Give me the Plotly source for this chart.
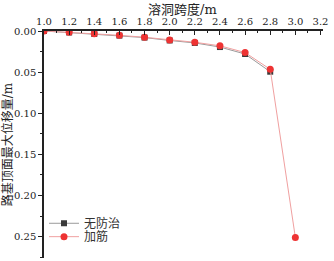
import plotly.graph_objects as go

span_a = [1.0, 1.2, 1.4, 1.6, 1.8, 2.0, 2.2, 2.4, 2.6, 2.8]
disp_a = [0.0, 0.0018, 0.0036, 0.0056, 0.0080, 0.0115, 0.0145, 0.0195, 0.0280, 0.0495]
span_b = [1.0, 1.2, 1.4, 1.6, 1.8, 2.0, 2.2, 2.4, 2.6, 2.8, 3.0]
disp_b = [0.0, 0.0015, 0.0032, 0.0052, 0.0076, 0.0108, 0.0137, 0.0180, 0.0262, 0.0466, 0.2510]
name_a = "无防治"
name_b = "加筋"
x_title = "溶洞跨度/m"
y_title = "路基顶面最大位移量/m"
x_ticks = [1.0, 1.2, 1.4, 1.6, 1.8, 2.0, 2.2, 2.4, 2.6, 2.8, 3.0, 3.2]
y_ticks = [0.00, 0.05, 0.10, 0.15, 0.20, 0.25]

FONT = "'DejaVu Serif', 'Liberation Serif', 'Noto Sans CJK SC', serif"

fig = go.Figure()
fig.add_trace(go.Scatter(
    x=span_a, y=disp_a, name=name_a, mode="lines+markers", legend="legend",
    line=dict(color="#9a9a9a", width=1),
    marker=dict(symbol="square", size=6, color="#3a3a3a"),
))
fig.add_trace(go.Scatter(
    x=span_b, y=disp_b, name=name_b, mode="lines+markers", legend="legend2",
    line=dict(color="#f0a0a0", width=1),
    marker=dict(symbol="circle", size=7, color="#ee3333"),
))

leg_common = dict(xanchor="left", yanchor="middle", bgcolor="rgba(0,0,0,0)",
                  font=dict(size=12, family=FONT, color="#333"), itemwidth=30)

fig.update_layout(
    width=334, height=261,
    margin=dict(l=44, r=11, t=31, b=3),
    paper_bgcolor="white", plot_bgcolor="white",
    font=dict(family=FONT, size=10, color="#222"),
    showlegend=True,
    legend=dict(x=0.0, y=0.153, **leg_common),
    legend2=dict(x=0.0, y=0.094, **leg_common),
    xaxis=dict(
        side="top", range=[1.0, 3.22], automargin=False,
        tickvals=x_ticks, ticktext=[f"{v:.1f}" for v in x_ticks],
        ticks="inside", ticklen=4, tickcolor="#222",
        minor=dict(dtick=0.1, tick0=1.0, ticks="inside", ticklen=2, tickcolor="#222"),
        showline=True, linecolor="#222", linewidth=1.5,
        showgrid=False, zeroline=False,
        tickfont=dict(size=10, family=FONT),
    ),
    yaxis=dict(
        range=[0.276, 0.0], automargin=False,
        tickvals=y_ticks, ticktext=[f"{v:.2f}" for v in y_ticks],
        ticks="outside", ticklen=4, tickcolor="#222",
        minor=dict(dtick=0.025, tick0=0, ticks="outside", ticklen=2, tickcolor="#222"),
        showline=True, linecolor="#222", linewidth=1.5,
        showgrid=False, zeroline=False,
        title=dict(text=y_title, font=dict(size=12, family=FONT), standoff=2),
        tickfont=dict(size=10, family=FONT),
    ),
    annotations=[dict(
        text=x_title, xref="paper", yref="paper", x=0.496, y=1.093,
        xanchor="center", yanchor="middle", showarrow=False,
        font=dict(size=13, family=FONT, color="#222"),
    )],
)

fig.write_html("out.html", config={"displayModeBar": False},
               post_script="document.body.style.margin='0';")
